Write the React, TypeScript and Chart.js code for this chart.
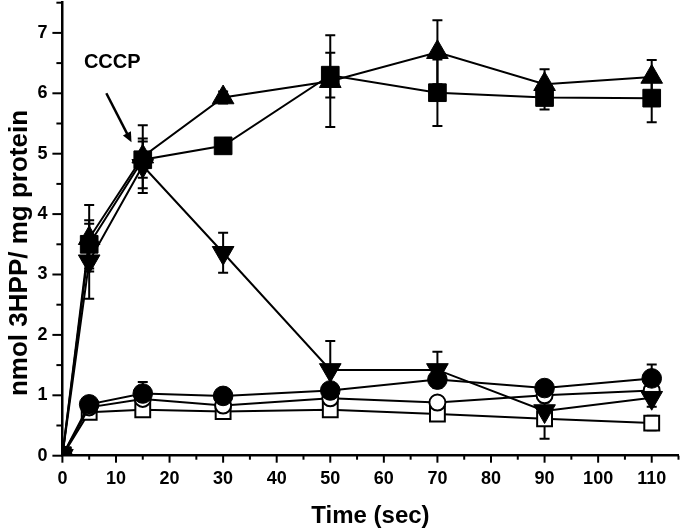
import React, { useEffect, useRef } from 'react';
import { Chart, registerables } from 'chart.js';

Chart.register(...registerables);

// ---- data ----
const TIME = [0, 5, 15, 30, 50, 70, 90, 110];

const TRI_UP = [0, 3.6, 4.95, 5.93, 6.2, 6.68, 6.15, 6.27];
const TRI_UP_ERR = [0, 0.55, 0.52, 0.1, 0.76, 0.53, 0.25, 0.28];

const SQ_FILL = [0, 3.5, 4.9, 5.13, 6.3, 6.01, 5.93, 5.92];
const SQ_FILL_ERR = [0, 0.4, 0.3, 0.08, 0.37, 0.55, 0.2, 0.4];

const TRI_DOWN = [0, 3.22, 4.8, 3.36, 1.42, 1.42, 0.74, 0.96];
const TRI_DOWN_ERR = [0, 0.62, 0.45, 0.33, 0.48, 0.3, 0.46, 0.15];

const CIRC_FILL = [0, 0.85, 1.03, 0.99, 1.08, 1.26, 1.12, 1.28];
const CIRC_FILL_ERR = [0, 0.05, 0.19, 0.05, 0.05, 0.1, 0.05, 0.23];

const CIRC_OPEN = [0, 0.8, 0.94, 0.83, 0.95, 0.88, 1.0, 1.08];
const CIRC_OPEN_ERR = [0, 0.05, 0.1, 0.05, 0.08, 0.1, 0.12, 0.08];

const SQ_OPEN = [0, 0.72, 0.76, 0.73, 0.76, 0.69, 0.61, 0.54];
const SQ_OPEN_ERR = [0, 0.05, 0.06, 0.05, 0.12, 0.05, 0.08, 0.12];

const X_TITLE = 'Time (sec)';
const Y_TITLE = 'nmol 3HPP/ mg protein';
const ANNOT_TEXT = 'CCCP';
const ANNOT_POS = { x: 9.3, y: 6.51 };
const ARROW_FROM = { x: 8.2, y: 6.0 };
const ARROW_TO = { x: 12.9, y: 5.19 };

const FONT = '"Liberation Sans", Arial, Helvetica, sans-serif';

type Series = {
  label: string;
  values: number[];
  errors: number[];
  style: string;
  radius: number;
  rotation: number;
  filled: boolean;
};

const SERIES: Series[] = [
  { label: 'tri-up', values: TRI_UP, errors: TRI_UP_ERR, style: 'triangle', radius: 12.5, rotation: 0, filled: true },
  { label: 'sq-fill', values: SQ_FILL, errors: SQ_FILL_ERR, style: 'rect', radius: 12.5, rotation: 0, filled: true },
  { label: 'tri-down', values: TRI_DOWN, errors: TRI_DOWN_ERR, style: 'triangle', radius: 12.5, rotation: 180, filled: true },
  { label: 'circ-fill', values: CIRC_FILL, errors: CIRC_FILL_ERR, style: 'circle', radius: 9.8, rotation: 0, filled: true },
  { label: 'circ-open', values: CIRC_OPEN, errors: CIRC_OPEN_ERR, style: 'circle', radius: 8, rotation: 0, filled: false },
  { label: 'sq-open', values: SQ_OPEN, errors: SQ_OPEN_ERR, style: 'rect', radius: 10.5, rotation: 0, filled: false },
];

const errorBarPlugin = {
  id: 'errorBars',
  beforeDatasetsDraw(chart: any) {
    const { ctx, scales } = chart;
    const xs = scales.x;
    const ys = scales.y;
    ctx.save();
    ctx.strokeStyle = '#000';
    ctx.lineWidth = 2;
    SERIES.forEach((s) => {
      s.values.forEach((v, j) => {
        const e = s.errors[j];
        if (!e) return;
        const x = xs.getPixelForValue(TIME[j]);
        const yt = ys.getPixelForValue(v + e);
        const yb = ys.getPixelForValue(v - e);
        ctx.beginPath();
        ctx.moveTo(x, yt);
        ctx.lineTo(x, yb);
        ctx.moveTo(x - 5, yt);
        ctx.lineTo(x + 5, yt);
        ctx.moveTo(x - 5, yb);
        ctx.lineTo(x + 5, yb);
        ctx.stroke();
      });
    });
    ctx.restore();
  },
};

const decorPlugin = {
  id: 'decor',
  afterDraw(chart: any) {
    const { ctx, scales, chartArea } = chart;
    const xs = scales.x;
    const ys = scales.y;
    ctx.save();
    ctx.strokeStyle = '#000';
    ctx.fillStyle = '#000';
    ctx.lineWidth = 2;
    // x tick marks
    for (let v = xs.min; v <= xs.max + 1e-9; v += 5) {
      const px = xs.getPixelForValue(v);
      const len = v % 10 === 0 ? 7 : 4;
      ctx.beginPath();
      ctx.moveTo(px, chartArea.bottom);
      ctx.lineTo(px, chartArea.bottom + len);
      ctx.stroke();
    }
    // y tick marks
    for (let v = ys.min; v <= ys.max + 1e-9; v += 0.5) {
      const py = ys.getPixelForValue(v);
      const len = Number.isInteger(v) ? 10 : 6;
      ctx.beginPath();
      ctx.moveTo(chartArea.left, py);
      ctx.lineTo(chartArea.left - len, py);
      ctx.stroke();
    }
    // x title
    ctx.font = `bold 24px ${FONT}`;
    ctx.textAlign = 'center';
    ctx.textBaseline = 'alphabetic';
    ctx.fillText(X_TITLE, (chartArea.left + chartArea.right) / 2, chartArea.bottom + 67.3);
    // y title
    ctx.save();
    ctx.font = `bold 26px ${FONT}`;
    ctx.translate(chartArea.left - 35.5, chartArea.bottom - 202.7);
    ctx.rotate(-Math.PI / 2);
    ctx.fillText(Y_TITLE, 0, 0);
    ctx.restore();
    // annotation
    ctx.font = `bold 20px ${FONT}`;
    ctx.textAlign = 'center';
    ctx.textBaseline = 'middle';
    ctx.fillText(ANNOT_TEXT, xs.getPixelForValue(ANNOT_POS.x), ys.getPixelForValue(ANNOT_POS.y));
    const x1 = xs.getPixelForValue(ARROW_FROM.x);
    const y1 = ys.getPixelForValue(ARROW_FROM.y);
    const x2 = xs.getPixelForValue(ARROW_TO.x);
    const y2 = ys.getPixelForValue(ARROW_TO.y);
    const ang = Math.atan2(y2 - y1, x2 - x1);
    const head = 10;
    ctx.lineWidth = 2.5;
    ctx.beginPath();
    ctx.moveTo(x1, y1);
    ctx.lineTo(x2 - Math.cos(ang) * head * 0.8, y2 - Math.sin(ang) * head * 0.8);
    ctx.stroke();
    ctx.beginPath();
    ctx.moveTo(x2, y2);
    ctx.lineTo(x2 - Math.cos(ang) * head + Math.sin(ang) * 4.5, y2 - Math.sin(ang) * head - Math.cos(ang) * 4.5);
    ctx.lineTo(x2 - Math.cos(ang) * head - Math.sin(ang) * 4.5, y2 - Math.sin(ang) * head + Math.cos(ang) * 4.5);
    ctx.closePath();
    ctx.fill();
    ctx.restore();
  },
};

export default function App() {
  const ref = useRef<HTMLCanvasElement>(null);

  useEffect(() => {
    const prev = document.body.style.margin;
    document.body.style.margin = '0';
    const canvas = ref.current;
    if (!canvas) return;

    const datasets = SERIES.map((s) => ({
      label: s.label,
      data: TIME.map((t, i) => ({ x: t, y: s.values[i] })),
      borderColor: '#000',
      borderWidth: 2,
      backgroundColor: s.filled ? '#000' : '#fff',
      pointStyle: s.style,
      pointRadius: s.radius,
      pointRotation: s.rotation,
      pointBackgroundColor: s.filled ? '#000' : '#fff',
      pointBorderColor: '#000',
      pointBorderWidth: s.filled ? 1 : 2,
      showLine: true,
      tension: 0,
      fill: false,
      clip: 0,
    }));

    const chart = new Chart(canvas, {
      type: 'scatter',
      data: { datasets } as any,
      options: {
        responsive: false,
        animation: false,
        events: [],
        layout: { autoPadding: false, padding: { left: 0, right: 1.5, top: 2.7, bottom: 0 } },
        plugins: {
          legend: { display: false },
          tooltip: { enabled: false },
        },
        scales: {
          x: {
            type: 'linear',
            min: 0,
            max: 115,
            grid: { display: false, drawTicks: true, tickLength: 7 },
            border: { display: true, color: '#000', width: 2.5 },
            ticks: {
              stepSize: 5,
              autoSkip: false,
              maxRotation: 0,
              padding: 6,
              color: '#000',
              font: { family: FONT, size: 18, weight: 'bold' },
              callback: (v: any) => (Number(v) % 10 === 0 ? String(v) : null),
            },
            afterFit: (scale: any) => {
              scale.height = 74.3;
              scale.paddingLeft = 0;
              scale.paddingRight = 0;
              scale.paddingTop = 0;
              scale.paddingBottom = 0;
            },
          },
          y: {
            type: 'linear',
            min: 0,
            max: 7.5,
            grid: { display: false, drawTicks: true, tickLength: 10 },
            border: { display: true, color: '#000', width: 2.5 },
            ticks: {
              stepSize: 0.5,
              autoSkip: false,
              padding: 5,
              color: '#000',
              font: { family: FONT, size: 18, weight: 'bold' },
              callback: (v: any) => (Number.isInteger(Number(v)) ? String(v) : null),
            },
            afterFit: (scale: any) => {
              scale.width = 62.4;
              scale.paddingLeft = 0;
              scale.paddingRight = 0;
              scale.paddingTop = 0;
              scale.paddingBottom = 0;
            },
          },
        },
      } as any,
      plugins: [errorBarPlugin, decorPlugin],
    });

    return () => {
      chart.destroy();
      document.body.style.margin = prev;
    };
  }, []);

  return (
    <div style={{ width: 680, height: 530, position: 'relative' }}>
      <canvas ref={ref} width={680} height={530} style={{ display: 'block' }} />
    </div>
  );
}
